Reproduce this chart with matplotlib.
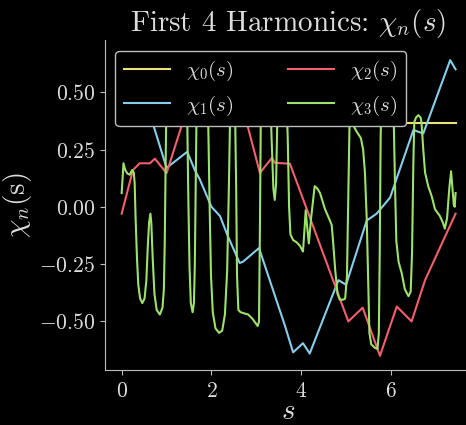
import matplotlib
matplotlib.use("Agg")
import matplotlib.pyplot as plt

# values
s0 = [0.0, 7.44]
chi0 = [0.366, 0.366]

s1 = [0.0, 0.35, 0.70, 1.00, 1.46, 1.63, 1.74, 2.00, 2.19, 2.37, 2.63, 2.70, 3.06,
      3.64, 3.82, 4.04, 4.19, 4.83, 5.00, 5.46, 5.68, 5.98, 6.50, 6.72, 7.32, 7.44]
chi1 = [0.62, 0.52, 0.36, 0.17, 0.24, 0.16, 0.12, 0.0, -0.04, -0.13, -0.245, -0.24, -0.18,
        -0.52, -0.635, -0.595, -0.64, -0.32, -0.34, -0.06, -0.03, 0.04, 0.335, 0.32, 0.64, 0.60]

s2 = [0.0, 0.25, 0.40, 0.63, 0.74, 1.00, 1.33, 1.60, 1.85, 2.05, 2.30, 2.55, 2.81, 3.08,
      3.35, 3.41, 3.75, 5.05, 5.37, 5.755, 6.13, 6.46, 6.76, 7.44]
chi2 = [-0.03, 0.16, 0.19, 0.19, 0.21, 0.147, 0.35, 0.52, 0.63, 0.66, 0.62, 0.52, 0.35, 0.148,
        0.214, 0.192, 0.188, -0.50, -0.44, -0.65, -0.435, -0.50, -0.32, -0.03]

s3 = [0.00, 0.04, 0.08, 0.13, 0.18, 0.23, 0.27, 0.29, 0.31, 0.34, 0.37, 0.41, 0.46, 0.51,
      0.55, 0.58, 0.61, 0.64, 0.66, 0.69, 0.73, 0.78, 0.85, 0.91, 0.94, 0.96, 0.98, 1.00,
      1.05, 1.40, 1.46, 1.48, 1.51, 1.54, 1.58, 1.61, 1.63, 1.65, 1.67, 1.72, 1.88, 1.93,
      1.96, 1.99, 2.03, 2.09, 2.17, 2.24, 2.30, 2.35, 2.39, 2.42, 2.47, 2.52, 2.55, 2.57,
      2.60, 2.65, 2.82, 2.92, 3.03, 3.06, 3.08, 3.10, 3.14, 3.30, 3.34, 3.38, 3.41, 3.44,
      3.47, 3.50, 3.66, 3.70, 3.73, 3.76, 3.82, 3.90, 3.97, 4.04, 4.08, 4.10, 4.13, 4.17,
      4.22, 4.30, 4.36, 4.42, 4.53, 4.64, 4.68, 4.71, 4.76, 4.81, 4.86, 4.94, 4.98, 5.02,
      5.05, 5.08, 5.11, 5.15, 5.23, 5.33, 5.38, 5.42, 5.46, 5.49, 5.52, 5.56, 5.64, 5.70,
      5.73, 5.75, 5.77, 5.80, 6.00, 6.06, 6.09, 6.12, 6.17, 6.24, 6.31, 6.39, 6.44, 6.47,
      6.50, 6.52, 6.56, 6.61, 6.66, 6.68, 6.72, 6.76, 6.83, 6.91, 6.98, 7.09, 7.16, 7.20,
      7.25, 7.30, 7.34, 7.37, 7.40, 7.42, 7.44]
chi3 = [0.06, 0.19, 0.16, 0.145, 0.14, 0.16, 0.15, 0.10, -0.05, -0.22, -0.34, -0.40, -0.42, -0.40,
        -0.32, -0.18, -0.07, -0.03, -0.07, -0.22, -0.38, -0.45, -0.47, -0.44, -0.36, -0.15, 0.20, 0.50,
        0.60, 0.60, 0.40, 0.10, -0.25, -0.42, -0.46, -0.42, -0.25, 0.10, 0.45, 0.60, 0.60, 0.35,
        0.00, -0.30, -0.46, -0.53, -0.55, -0.54, -0.47, -0.28, 0.10, 0.45, 0.60, 0.50, 0.10, -0.30,
        -0.45, -0.46, -0.47, -0.49, -0.52, -0.50, -0.10, 0.40, 0.60, 0.55, 0.30, 0.08, 0.03, 0.10,
        0.40, 0.60, 0.55, 0.30, 0.00, -0.12, -0.145, -0.155, -0.17, -0.195, -0.08, -0.015, -0.08, -0.16,
        -0.05, 0.09, 0.08, 0.06, -0.01, -0.06, -0.08, -0.15, -0.28, -0.38, -0.405, -0.405, -0.40, -0.30,
        0.05, 0.40, 0.42, 0.36, 0.33, 0.30, 0.25, 0.15, -0.05, -0.30, -0.55, -0.60, -0.615, -0.62,
        -0.55, -0.20, 0.30, 0.60, 0.60, 0.40, 0.10, -0.15, -0.24, -0.29, -0.36, -0.39, -0.37, -0.20,
        0.20, 0.37, 0.39, 0.40, 0.39, 0.37, 0.25, 0.15, 0.09, 0.045, -0.01, -0.04, -0.07, -0.095,
        -0.05, 0.08, 0.155, 0.08, 0.01, 0.0, 0.06]

series = [
    (s0, chi0, r"$\chi_0(s)$", "#ece27a"),
    (s1, chi1, r"$\chi_1(s)$", "#87ceeb"),
    (s2, chi2, r"$\chi_2(s)$", "#f2606c"),
    (s3, chi3, r"$\chi_3(s)$", "#9ee06c"),
]

TEXT = "#dcdcdc"
EDGE = "#bdbdbd"

plt.rcParams["font.family"] = "serif"
plt.rcParams["font.serif"] = ["cmr10"]
plt.rcParams["mathtext.fontset"] = "cm"
plt.rcParams["axes.formatter.use_mathtext"] = True

fig = plt.figure(figsize=(4.66, 4.25), dpi=100, facecolor="black")
ax = fig.add_axes([0.2253, 0.1294, 0.787, 0.776], facecolor="black")

for s, y, label, color in series:
    ax.plot(s, y, color=color, lw=1.5, label=label)

ax.set_xlim(-0.372, 7.80)
ax.set_ylim(-0.712, 0.727)
ax.set_xticks([0, 2, 4, 6])
ax.set_yticks([-0.5, -0.25, 0.0, 0.25, 0.5])

for side in ("left", "bottom"):
    ax.spines[side].set_color(EDGE)
for side in ("top", "right"):
    ax.spines[side].set_visible(False)
ax.tick_params(colors=EDGE, labelcolor=TEXT, labelsize=15.5, length=3.5)
ax.tick_params(axis="x", pad=5)

ax.set_title(r"First 4 Harmonics: $\chi_n(s)$", color=TEXT, fontsize=21, pad=1)
ax.set_xlabel(r"$s$", color=TEXT, fontsize=21, labelpad=-2)
ax.set_ylabel(r"$\chi_n$(s)", color=TEXT, fontsize=21, labelpad=4)

leg = ax.legend(loc="upper left", ncol=2, fontsize=15, facecolor="black",
                edgecolor=EDGE, framealpha=1.0, columnspacing=2.6, handlelength=2.2)
for t in leg.get_texts():
    t.set_color(TEXT)

fig.savefig("out.png", dpi=100, facecolor="black")
